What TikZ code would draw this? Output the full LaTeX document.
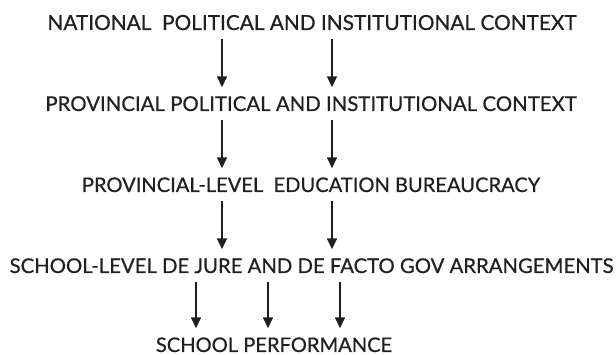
\documentclass[tikz,border=0pt]{standalone}
\usepackage{fontspec}
\setmainfont{Lato}[FakeBold=0.6]
\usetikzlibrary{arrows.meta}
\definecolor{ink}{HTML}{231F20}
\newcommand{\lvlsize}[1]{\fontsize{#1}{24}\selectfont}
\begin{document}
\begin{tikzpicture}[x=1pt,y=-1pt,
  lvl/.style={anchor=base,inner xsep=0pt,inner ysep=9pt,text depth=0pt,text height=14.5pt,
    font=\lvlsize{20.8},text=ink},
  arr/.style={draw=ink,line width=1.5pt,-{Triangle[width=10pt,length=11pt]}}]
\useasboundingbox (0,0) rectangle (616,355);
\node[lvl] (l1) at (312,30) {NATIONAL\ \ POLITICAL AND INSTITUTIONAL CONTEXT};
\node[lvl,font=\lvlsize{20.4}] (l2) at (311,111) {PROVINCIAL POLITICAL AND INSTITUTIONAL CONTEXT};
\node[lvl,font=\lvlsize{20.1}] (l3) at (311,192) {PROVINCIAL-LEVEL\ \ EDUCATION BUREAUCRACY};
\node[lvl,font=\lvlsize{20.3}] (l4) at (311.5,273) {SCHOOL-LEVEL DE JURE AND DE FACTO GOV ARRANGEMENTS};
\node[lvl,font=\lvlsize{20.1},inner ysep=0pt,text height=23.5pt] (l5) at (274,352) {SCHOOL PERFORMANCE};
\coordinate (xa) at (222,0);
\coordinate (xb) at (332,0);
\coordinate (xc) at (196,0);
\coordinate (xd) at (268,0);
\coordinate (xe) at (340,0);
\draw[arr] (l1.south -| xa) -- (l2.north -| xa);
\draw[arr] (l1.south -| xb) -- (l2.north -| xb);
\draw[arr] (l2.south -| xa) -- (l3.north -| xa);
\draw[arr] (l2.south -| xb) -- (l3.north -| xb);
\draw[arr] (l3.south -| xa) -- (l4.north -| xa);
\draw[arr] (l3.south -| xb) -- (l4.north -| xb);
\draw[arr] (l4.south -| xc) -- (l5.north -| xc);
\draw[arr] (l4.south -| xd) -- (l5.north -| xd);
\draw[arr] (l4.south -| xe) -- (l5.north -| xe);
\end{tikzpicture}
\end{document}
